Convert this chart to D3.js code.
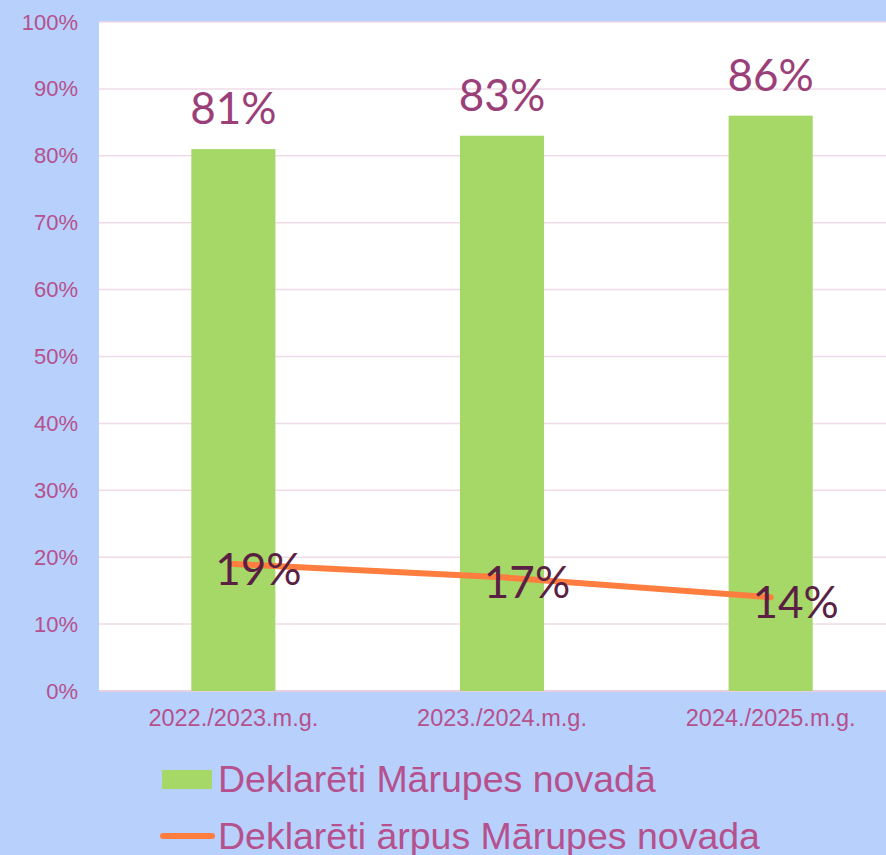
<!DOCTYPE html>
<html>
<head>
<meta charset="utf-8">
<script src="https://cdn.jsdelivr.net/npm/d3@7"></script>
<style>
  body { margin: 0; background: #b8d0fc; }
  svg { display: block; }
</style>
</head>
<body>
<div id="chart"></div>
<script>
const years = ["2022./2023.m.g.", "2023./2024.m.g.", "2024./2025.m.g."];
const inside = [0.81, 0.83, 0.86];
const outside = [0.19, 0.17, 0.14];
const yTicks = [0, 0.1, 0.2, 0.3, 0.4, 0.5, 0.6, 0.7, 0.8, 0.9, 1];
const legendNames = ["Deklarēti Mārupes novadā", "Deklarēti ārpus Mārupes novada"];

const w = 886, h = 855;
const plotLeft = 99, plotTop = 22, plotBottom = 691, plotRight = 905;
const axisColor = "#b5518d";

const svg = d3.select("#chart").append("svg")
  .attr("width", w)
  .attr("height", h);

const x = d3.scaleBand().domain(years).range([plotLeft, plotRight]).padding(0);
const y = d3.scaleLinear().domain([0, 1]).range([plotBottom, plotTop]);
const barW = x.bandwidth() * 0.313;
const cx = d => x(d) + x.bandwidth() / 2;

// plot background
svg.append("rect")
  .attr("x", plotLeft).attr("y", plotTop)
  .attr("width", plotRight - plotLeft).attr("height", plotBottom - plotTop)
  .attr("fill", "#fff");

// gridlines
svg.append("g")
  .selectAll("line")
  .data(yTicks)
  .enter()
  .append("line")
  .attr("x1", plotLeft).attr("x2", plotRight)
  .attr("y1", d => y(d)).attr("y2", d => y(d))
  .attr("stroke", d => d === 0 ? "#e6cfe0" : "#efdbe7")
  .attr("stroke-width", d => d === 0 ? 2 : 1.5);

// y axis labels
const yAxis = d3.axisLeft(y).tickValues(yTicks).tickFormat(d3.format(".0%")).tickSize(0).tickPadding(21);
svg.append("g")
  .attr("transform", "translate(" + plotLeft + ",0)")
  .call(yAxis)
  .call(g => g.select(".domain").remove())
  .selectAll("text")
  .attr("fill", axisColor)
  .attr("font-family", "'Liberation Sans', Arial, sans-serif")
  .attr("font-size", 22);

// x axis labels
const xAxis = d3.axisBottom(x).tickSize(0).tickPadding(18);
svg.append("g")
  .attr("transform", "translate(0," + plotBottom + ")")
  .call(xAxis)
  .call(g => g.select(".domain").remove())
  .selectAll("text")
  .attr("fill", axisColor)
  .attr("font-family", "'Liberation Sans', Arial, sans-serif")
  .attr("font-size", 23.5);

// bars
svg.selectAll(".bar")
  .data(inside)
  .enter()
  .append("rect")
  .attr("class", "bar")
  .attr("x", (d, i) => cx(years[i]) - barW / 2)
  .attr("y", d => y(d))
  .attr("width", barW)
  .attr("height", d => plotBottom - y(d))
  .attr("fill", "#a5d867");

svg.selectAll(".barlabel")
  .data(inside)
  .enter()
  .append("text")
  .attr("class", "barlabel")
  .attr("x", (d, i) => cx(years[i]))
  .attr("y", d => y(d) - 25)
  .attr("text-anchor", "middle")
  .attr("fill", "#9b3f79")
  .attr("font-family", "Lato, sans-serif")
  .attr("font-size", 44)
  .text(d => Math.round(d * 100) + "%");

// line
const line = d3.line()
  .x((d, i) => cx(years[i]))
  .y(d => y(d));

svg.append("path")
  .datum(outside)
  .attr("d", line)
  .attr("fill", "none")
  .attr("stroke", "#ff7d3f")
  .attr("stroke-width", 6)
  .attr("stroke-linecap", "round");

svg.selectAll(".linelabel")
  .data(outside)
  .enter()
  .append("text")
  .attr("class", "linelabel")
  .attr("x", (d, i) => cx(years[i]) + 25)
  .attr("y", d => y(d) + 21)
  .attr("text-anchor", "middle")
  .attr("fill", "#5a1f42")
  .attr("font-family", "Lato, sans-serif")
  .attr("font-size", 44)
  .text(d => Math.round(d * 100) + "%");

// legend
const legend = svg.append("g");
legend.append("rect")
  .attr("x", 162).attr("y", 770)
  .attr("width", 50).attr("height", 19)
  .attr("fill", "#a5d867");
legend.append("line")
  .attr("x1", 163).attr("x2", 212)
  .attr("y1", 836).attr("y2", 836)
  .attr("stroke", "#ff7d3f")
  .attr("stroke-width", 6)
  .attr("stroke-linecap", "round");
legend.selectAll("text")
  .data(legendNames)
  .enter()
  .append("text")
  .attr("x", 218)
  .attr("y", (d, i) => 792 + i * 57)
  .attr("fill", axisColor)
  .attr("font-family", "'Liberation Sans', Arial, sans-serif")
  .attr("font-size", 37.5)
  .text(d => d);
</script>
</body>
</html>
